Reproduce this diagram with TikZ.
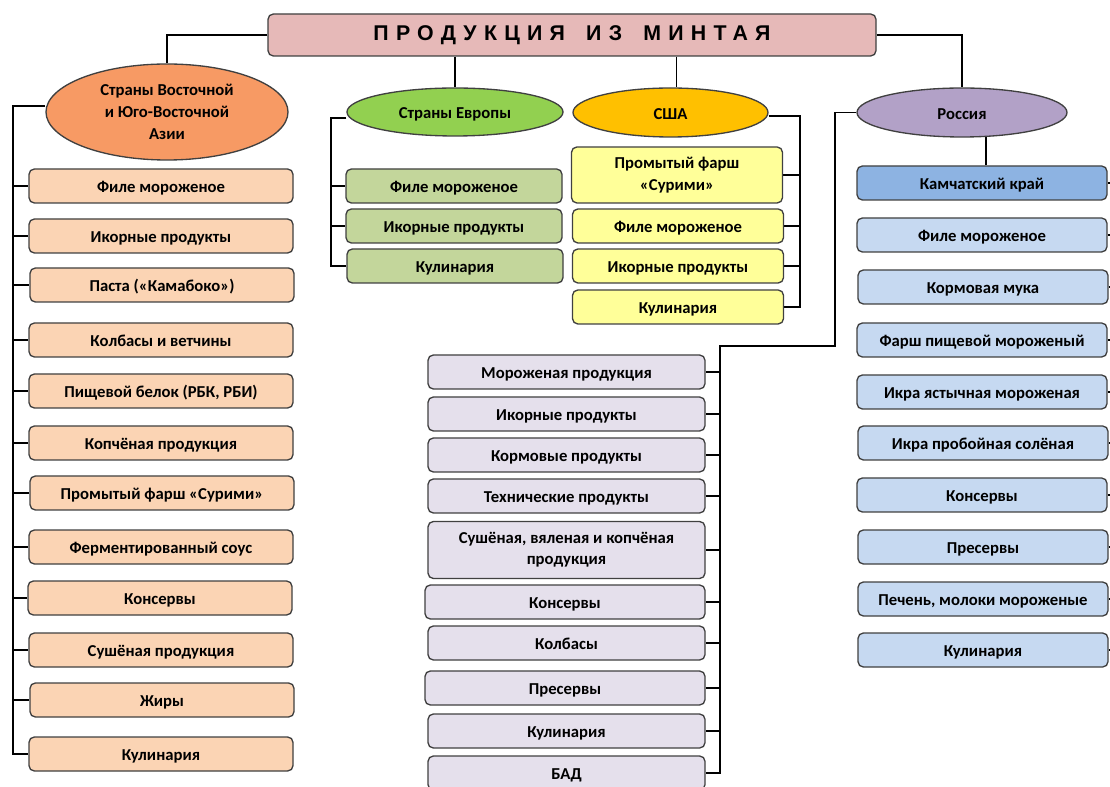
\documentclass[tikz,border=0pt]{standalone}
\usepackage{fontspec}
\setmainfont{Carlito}
\newfontfamily\titlefont[LetterSpace=34]{Liberation Sans Bold}
\usetikzlibrary{shapes.geometric,backgrounds}
\definecolor{bordc}{HTML}{404040}
\definecolor{titlec}{HTML}{E6B9B8}
\definecolor{asiae}{HTML}{F79A64}
\definecolor{asiab}{HTML}{FBD4B4}
\definecolor{eure}{HTML}{92D050}
\definecolor{eurb}{HTML}{C3D69B}
\definecolor{usae}{HTML}{FFC000}
\definecolor{usab}{HTML}{FFFF99}
\definecolor{ruse}{HTML}{B2A1C7}
\definecolor{kamc}{HTML}{8DB3E2}
\definecolor{rusb}{HTML}{C6D9F1}
\definecolor{midb}{HTML}{E5E0EC}
\tikzset{
  every node/.style={font=\bfseries\fontsize{12.5}{14.5}\selectfont, align=center, inner sep=0pt},
  abox/.style={rectangle, rounded corners=4pt, draw=bordc, line width=1pt, minimum height=25.5pt},
  sl/.style={text height=11pt, text depth=1.2pt},
  ell/.style={ellipse, draw=bordc, line width=1pt},
  conn/.style={draw=black, line width=1.3pt},
  asiabox/.style={abox, sl, fill=asiab, minimum width=198pt},
  eurbox/.style={abox, sl, fill=eurb, minimum width=162pt},
  usabox/.style={abox, fill=usab, minimum width=158.25pt},
  rusbox/.style={abox, sl, fill=rusb, minimum width=187.5pt},
  midbox/.style={abox, fill=midb, minimum width=207.75pt},
}
\begin{document}
\begin{tikzpicture}[x=0.75pt,y=-0.75pt]
\useasboundingbox (0,0) rectangle (1110,787);
% title
\node[abox, fill=titlec, minimum width=456pt, minimum height=31.5pt] (title) at (572,35)
  {\titlefont\fontsize{16}{18}\selectfont ПРОДУКЦИЯ\hspace{6pt} ИЗ\hspace{6pt} МИНТАЯ};
% ellipses
\node[ell, fill=asiae, minimum width=181.5pt, minimum height=72pt] (asia) at (167,112)
  {Страны Восточной\\[2pt] и Юго-Восточной\\[2pt] Азии};
\node[ell, sl, fill=eure, minimum width=162pt, minimum height=36pt] (eur) at (455,112) {Страны Европы};
\node[ell, sl, fill=usae, minimum width=146.25pt, minimum height=36.75pt] (usa) at (670.5,112.5) {США};
\node[ell, sl, fill=ruse, minimum width=157.5pt, minimum height=36.75pt] (rus) at (962,112.5) {Россия};
% Asia boxes
\node[asiabox] (a1) at (161,186) {Филе мороженое};
\node[asiabox] (a2) at (161,236) {Икорные продукты};
\node[asiabox] (a3) at (162,285) {Паста («Камабоко»)};
\node[asiabox] (a4) at (161,340) {Колбасы и ветчины};
\node[asiabox] (a5) at (161,391) {Пищевой белок (РБК, РБИ)};
\node[asiabox] (a6) at (161,443) {Копчёная продукция};
\node[asiabox] (a7) at (162,493) {Промытый фарш «Сурими»};
\node[asiabox] (a8) at (161,547) {Ферментированный соус};
\node[asiabox] (a9) at (160,598) {Консервы};
\node[asiabox] (a10) at (161,650) {Сушёная продукция};
\node[asiabox] (a11) at (162,700) {Жиры};
\node[asiabox] (a12) at (161,754) {Кулинария};
% Europe boxes
\node[eurbox] (e1) at (454,186) {Филе мороженое};
\node[eurbox] (e2) at (454,226) {Икорные продукты};
\node[eurbox] (e3) at (455,266) {Кулинария};
% USA boxes
\node[usabox, minimum height=42pt] (u1) at (677,175) {Промытый фарш\\[2pt]«Сурими»};
\node[usabox, sl] (u2) at (678,226) {Филе мороженое};
\node[usabox, sl] (u3) at (678,266) {Икорные продукты};
\node[usabox, sl] (u4) at (678,307) {Кулинария};
% Russia boxes
\node[abox, sl, fill=kamc, minimum width=187.5pt] (r0) at (982,183) {Камчатский край};
\node[rusbox] (r1) at (982,235) {Филе мороженое};
\node[rusbox] (r2) at (983,287) {Кормовая мука};
\node[rusbox] (r3) at (982,340) {Фарш пищевой мороженый};
\node[rusbox] (r4) at (982,392) {Икра ястычная мороженая};
\node[rusbox] (r5) at (983,443) {Икра пробойная солёная};
\node[rusbox] (r6) at (982,495) {Консервы};
\node[rusbox] (r7) at (983,547) {Пресервы};
\node[rusbox] (r8) at (983,599) {Печень, молоки мороженые};
\node[rusbox] (r9) at (983,650) {Кулинария};
% middle boxes
\node[midbox, sl] (m1) at (566.5,372) {Мороженая продукция};
\node[midbox, sl] (m2) at (566.5,414) {Икорные продукты};
\node[midbox, sl] (m3) at (566.5,455) {Кормовые продукты};
\node[midbox, sl] (m4) at (566.5,496) {Технические продукты};
\node[midbox, minimum height=42.75pt] (m5) at (566.5,550) {Сушёная, вяленая и копчёная\\[1pt]продукция};
\node[midbox, sl, minimum width=210pt] (m6) at (565,602) {Консервы};
\node[midbox, sl] (m7) at (566.5,643) {Колбасы};
\node[midbox, sl, minimum width=210pt] (m8) at (565,688) {Пресервы};
\node[midbox, sl] (m9) at (566.5,731) {Кулинария};
\node[midbox, sl] (m10) at (566.5,773) {БАД};
% connectors
\begin{pgfonlayer}{background}
\draw[conn] (title.west) -| (asia.north);
\draw[conn] (title.south -| eur.north) -- (eur.north);
\draw[conn] ([xshift=4.5]title.south -| usa.north) -- ([xshift=4.5]usa.north);
\draw[conn] (title.east) -| (rus.north);
% Asia
\coordinate (abus) at (13,106);
\draw[conn] (asia.west |- abus) -- (abus) -- (abus |- a12.west) -- (a12.west);
\foreach \i in {1,...,11} \draw[conn] (abus |- a\i.west) -- (a\i.west);
% Europe
\coordinate (ebus) at (331,118);
\draw[conn] (eur.west |- ebus) -- (ebus) -- (ebus |- e3.west) -- (e3.west);
\foreach \i in {1,2} \draw[conn] (ebus |- e\i.west) -- (e\i.west);
% USA
\coordinate (ubus) at (800,116);
\draw[conn] (usa.east |- ubus) -- (ubus) -- (ubus |- u4.east) -- (u4.east);
\foreach \i in {1,2,3} \draw[conn] (ubus |- u\i.east) -- (u\i.east);
% Russia
\draw[conn] ([xshift=3]r0.north) -- ([xshift=3]r0.north |- rus.center);
\foreach \i in {0,...,9} \draw[conn] (r\i.east) -- ++(6,0);
\coordinate (rturn) at (835,346);
\coordinate (mbus) at (720,346);
\draw[conn] (rus.west) -- (rturn |- rus.west) -- (rturn) -- (mbus) -- (mbus |- m10.east) -- (m10.east);
\foreach \i in {1,...,9} \draw[conn] (mbus |- m\i.east) -- (m\i.east);
\end{pgfonlayer}
\end{tikzpicture}
\end{document}
